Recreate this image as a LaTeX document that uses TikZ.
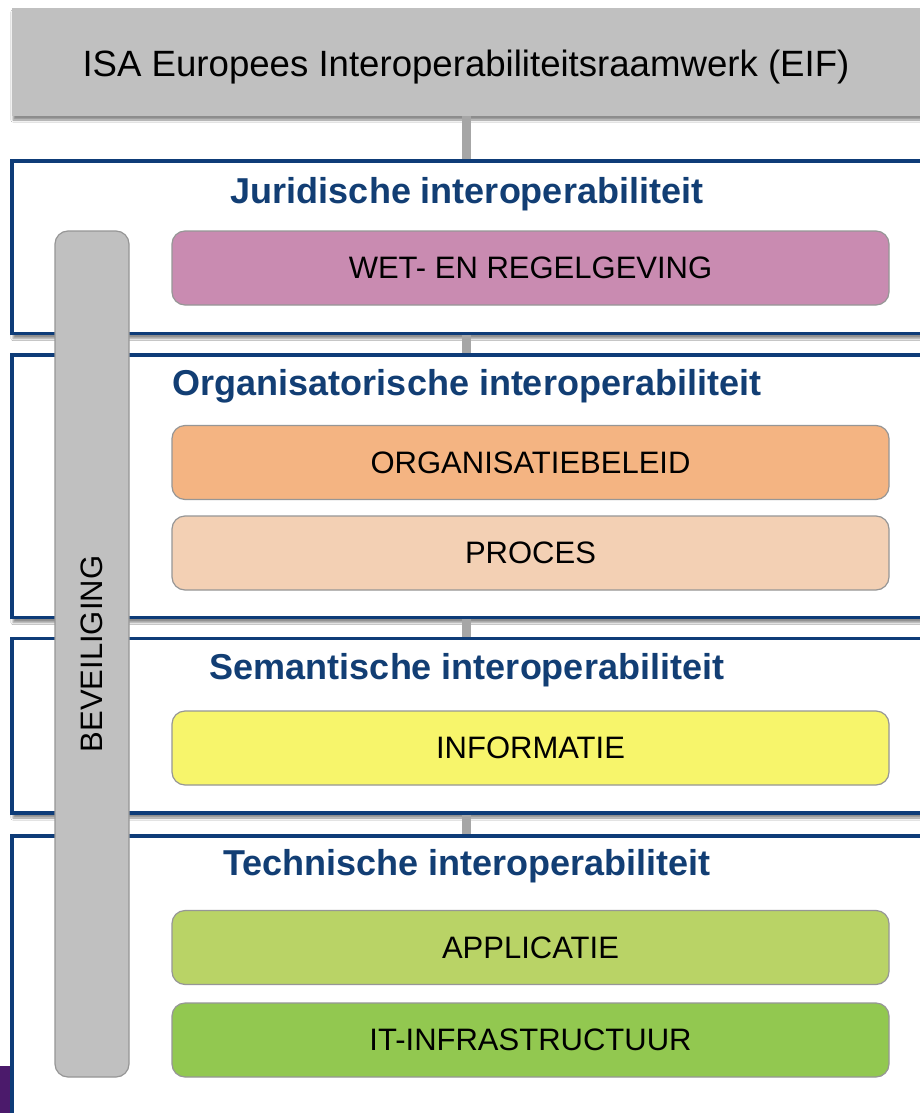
\documentclass[tikz,border=0pt]{standalone}
\usepackage{fontspec}
\setmainfont{Liberation Sans}
\usetikzlibrary{shadows.blur}
\definecolor{eifblue}{RGB}{14,60,120}
\definecolor{titleblue}{RGB}{18,62,116}
\definecolor{barg}{RGB}{192,192,192}
\definecolor{bardraw}{RGB}{150,150,150}
\definecolor{conng}{RGB}{166,166,166}
\definecolor{cpink}{RGB}{201,139,177}
\definecolor{corange}{RGB}{244,180,130}
\definecolor{cpeach}{RGB}{243,208,180}
\definecolor{cyellow}{RGB}{247,245,107}
\definecolor{clgreen}{RGB}{185,211,102}
\definecolor{cgreen}{RGB}{146,200,80}
\definecolor{cpurple}{RGB}{75,26,107}
\tikzset{
  topbox/.style={draw=none, fill=barg, minimum width=928pt, minimum height=108pt, inner sep=0pt,
    blur shadow={shadow xshift=1pt, shadow yshift=-4pt, shadow blur steps=6, shadow opacity=45}},
  layerbox/.style={draw=eifblue, line width=3.5pt, fill=white, minimum width=928pt, inner sep=0pt,
    blur shadow={shadow xshift=1pt, shadow yshift=-5pt, shadow blur steps=6, shadow opacity=45}},
  layertitle/.style={text=titleblue, font=\fontsize{36}{42}\selectfont\bfseries, anchor=base},
  itembox/.style={draw=bardraw, line width=1.2pt, rounded corners=13pt, minimum width=717pt,
    minimum height=74pt, inner sep=0pt, font=\fontsize{31}{37}\selectfont},
  secbar/.style={draw=bardraw, line width=1.2pt, fill=barg, rounded corners=13pt, minimum width=74pt,
    minimum height=846pt, inner sep=0pt},
  conn/.style={draw=conng, line width=9pt}
}
\begin{document}
\begin{tikzpicture}[x=1pt,y=-1pt]
\useasboundingbox (0,0) rectangle (920,1113);
\clip (0,0) rectangle (920,1113);
\fill[white] (0,0) rectangle (920,1113);
% top box
\node[topbox] (top) at (476,62) {};
\node[anchor=base, font=\fontsize{36.6}{42}\selectfont] (toptext) at (466,77) {ISA Europees Interoperabiliteitsraamwerk (EIF)};
% layers
\node[layerbox, minimum height=294pt] (L4) at (476,983) {};
\node[layerbox, minimum height=174.5pt] (L3) at (476,725.75) {};
\node[layerbox, minimum height=262.5pt] (L2) at (476,486.25) {};
\node[layerbox, minimum height=172.5pt] (L1) at (476,247.25) {};
% connector segments visible in the gaps
\draw[conn] (toptext |- top.south) -- (toptext |- L1.north);
\draw[conn] (toptext |- L1.south) -- (toptext |- L2.north);
\draw[conn] (toptext |- L2.south) -- (toptext |- L3.north);
\draw[conn] (toptext |- L3.south) -- (toptext |- L4.north);
% titles
\node[layertitle] (t1) at (467,203) {Juridische interoperabiliteit};
\node[layertitle] (t2) at (467,395) {Organisatorische interoperabiliteit};
\node[layertitle] (t3) at (467,679) {Semantische interoperabiliteit};
\node[layertitle] (t4) at (467,875) {Technische interoperabiliteit};
% items
\node[itembox, fill=cpink] (wet) at (530.5,268) {WET- EN REGELGEVING};
\node[itembox, fill=corange] (org) at (530.5,462.5) {ORGANISATIEBELEID};
\node[itembox, fill=cpeach] (proc) at (530.5,553) {PROCES};
\node[itembox, fill=cyellow] (info) at (530.5,748) {INFORMATIE};
\node[itembox, fill=clgreen] (app) at (530.5,947.5) {APPLICATIE};
\node[itembox, fill=cgreen] (it) at (530.5,1040) {IT-INFRASTRUCTUUR};
% security bar
\node[secbar] (bev) at (92,654) {};
\node[rotate=90, font=\fontsize{31}{37}\selectfont] (bevtext) at (bev.center) {BEVEILIGING};
% purple corner
\fill[cpurple] (0,1066) rectangle (10,1113);
\end{tikzpicture}
\end{document}
